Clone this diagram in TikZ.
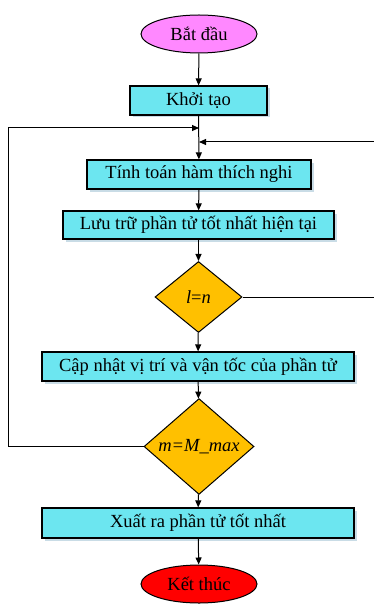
\documentclass[tikz,border=0pt]{standalone}
\usepackage{fontspec}
\setmainfont{Liberation Serif}
\usepackage{tikz}
\usetikzlibrary{arrows.meta,shapes.geometric,shadows}
\definecolor{boxfill}{HTML}{6CE6F0}
\definecolor{startfill}{HTML}{FF88FF}
\definecolor{stopfill}{HTML}{FF0000}
\definecolor{decfill}{HTML}{FFC000}
\definecolor{shade}{HTML}{C9DCE6}

\begin{document}
\begin{tikzpicture}[x=1pt,y=-1pt,>={Triangle[length=7pt,width=6pt]},line width=1pt,
  every node/.style={font=\fontsize{18.5}{21}\selectfont},
  procbox/.style={draw,line width=1.2pt,fill=boxfill,inner sep=0pt,
    drop shadow={shadow xshift=2.5pt,shadow yshift=-2.5pt,fill=shade,opacity=1}},
  termbox/.style={ellipse,draw,line width=1pt,inner sep=0pt,minimum width=116pt,minimum height=38pt},
  decbox/.style={diamond,draw,line width=1pt,fill=decfill,inner sep=0pt}]
\useasboundingbox (0,0) rectangle (374,604);
\node[termbox,fill=startfill] (start) at (199,34) {Bắt đầu};
\node[procbox,minimum width=137pt,minimum height=29pt] (init) at (198.5,100.5) {Khởi tạo};
\node[procbox,minimum width=224pt,minimum height=29pt] (fit) at (199,174.5) {Tính toán hàm thích nghi};
\node[procbox,minimum width=271pt,minimum height=28pt] (best) at (198.5,225) {Lưu trữ phần tử tốt nhất hiện tại};
\node[decbox,minimum width=87pt,minimum height=71pt] (chkl) at (198.5,297) {\textit{l}=\textit{n}};
\node[procbox,minimum width=312pt,minimum height=29pt] (update) at (198,366.5) {Cập nhật vị trí và vận tốc của phần tử};
\node[decbox,minimum width=110pt,minimum height=91pt] (chkm) at (199,446.5) {\textit{m=M\_max}};
\node[procbox,minimum width=312pt,minimum height=30pt] (out) at (198,523) {Xuất ra phần tử tốt nhất};
\node[termbox,fill=stopfill] (stop) at (199,584) {Kết thúc};
\coordinate (jl) at (199,128);
\coordinate (jr) at (199,142);
\foreach \u/\v in {start/init,init/fit,fit/best,best/chkl,chkl/update,update/chkm,chkm/out,out/stop}{\draw[->] (\u)--(\v);}
\draw[->] (chkm.west) -- (8,446.5) |- (jl);
\draw[->] (chkl.east) -- (380,297) |- (jr);
\end{tikzpicture}
\end{document}
